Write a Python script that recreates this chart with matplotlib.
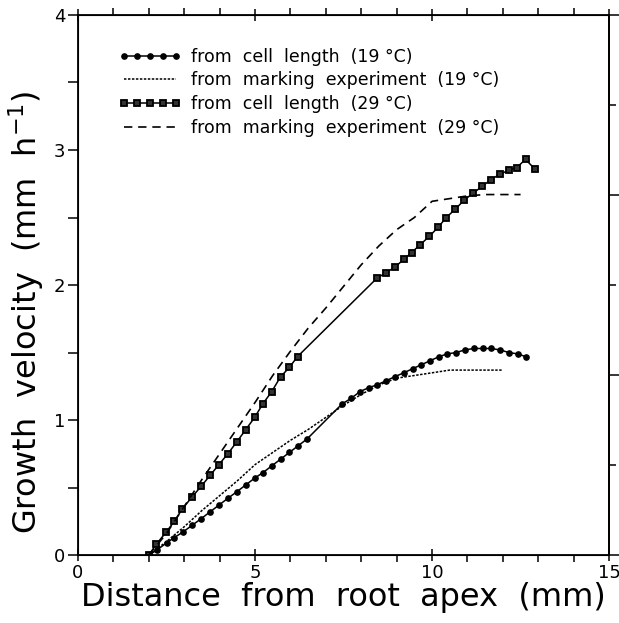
import matplotlib
matplotlib.use('Agg')
import matplotlib.pyplot as plt
from matplotlib.ticker import MultipleLocator, NullFormatter

# cell length, 19 C
x_cell19 = [2.0, 2.24, 2.5, 2.72, 2.96, 3.22, 3.48, 3.73, 3.98, 4.23, 4.49, 4.74, 4.99,
            5.22, 5.47, 5.72, 5.97, 6.22, 6.47, 7.46, 7.71, 7.96, 8.21, 8.44, 8.69, 8.94,
            9.2, 9.45, 9.7, 9.95, 10.2, 10.43, 10.68, 10.93, 11.19, 11.44, 11.66, 11.91,
            12.17, 12.42, 12.64]
y_cell19 = [0.0, 0.04, 0.09, 0.13, 0.17, 0.22, 0.27, 0.32, 0.37, 0.42, 0.47, 0.52, 0.57,
            0.61, 0.66, 0.71, 0.76, 0.81, 0.86, 1.12, 1.16, 1.21, 1.24, 1.26, 1.29, 1.32,
            1.35, 1.38, 1.41, 1.44, 1.47, 1.49, 1.50, 1.52, 1.53, 1.53, 1.53, 1.52,
            1.50, 1.49, 1.47]

# marking experiment, 19 C
x_mark19 = [2.0, 2.5, 3.0, 3.5, 4.0, 4.5, 5.0, 5.5, 6.0, 6.5, 7.0, 7.5, 8.0, 8.5, 9.0,
            9.5, 10.0, 10.5, 12.0]
y_mark19 = [0.0, 0.10, 0.21, 0.33, 0.44, 0.55, 0.67, 0.76, 0.85, 0.93, 1.02, 1.11, 1.19,
            1.26, 1.31, 1.33, 1.35, 1.37, 1.37]

# cell length, 29 C
x_cell29 = [2.0, 2.21, 2.49, 2.72, 2.94, 3.22, 3.48, 3.73, 3.98, 4.23, 4.49, 4.74, 4.99,
            5.22, 5.47, 5.72, 5.97, 6.2, 8.44, 8.69, 8.94, 9.2, 9.42, 9.67, 9.92, 10.18,
            10.4, 10.65, 10.91, 11.16, 11.41, 11.66, 11.91, 12.17, 12.39, 12.64, 12.9]
y_cell29 = [0.0, 0.08, 0.17, 0.25, 0.34, 0.43, 0.51, 0.59, 0.67, 0.75, 0.84, 0.93, 1.02,
            1.12, 1.21, 1.32, 1.39, 1.47, 2.05, 2.09, 2.13, 2.19, 2.24, 2.30, 2.36, 2.43,
            2.50, 2.56, 2.63, 2.68, 2.73, 2.78, 2.82, 2.85, 2.87, 2.93, 2.86]

# marking experiment, 29 C
x_mark29 = [2.0, 2.5, 3.0, 3.5, 4.0, 4.5, 5.0, 5.5, 6.0, 6.5, 7.0, 7.5, 8.0, 8.5, 9.0,
            9.5, 10.0, 10.5, 11.0, 11.5, 12.5]
y_mark29 = [0.0, 0.16, 0.36, 0.56, 0.75, 0.94, 1.13, 1.33, 1.51, 1.68, 1.83, 1.99, 2.15,
            2.29, 2.41, 2.50, 2.62, 2.64, 2.66, 2.67, 2.67]

labels = ['from  cell  length  (19 °C)',
          'from  marking  experiment  (19 °C)',
          'from  cell  length  (29 °C)',
          'from  marking  experiment  (29 °C)']

fig = plt.figure(figsize=(6.19, 6.23), dpi=100)
ax = fig.add_axes([0.126, 0.109, 0.858, 0.867])

ax.plot(x_cell19, y_cell19, '-', color='k', lw=1.1, marker='o', ms=3.8,
        mfc='k', mec='k', label=labels[0])
ax.plot(x_mark19, y_mark19, color='k', lw=1.1, ls=(0, (1.6, 1.0)), label=labels[1])
ax.plot(x_cell29, y_cell29, '-', color='k', lw=1.1, marker='s', ms=5,
        mfc='0.2', mec='k', mew=1.3, label=labels[2])
ax.plot(x_mark29, y_mark29, color='k', lw=1.2, ls=(0, (5, 3.5)), label=labels[3])

ax.set_xlim(0, 15)
ax.set_ylim(0, 4)
ax.xaxis.set_major_locator(MultipleLocator(5))
ax.xaxis.set_minor_locator(MultipleLocator(1))
ax.yaxis.set_major_locator(MultipleLocator(1))
ax.yaxis.set_minor_locator(MultipleLocator(0.5))
ax.tick_params(which='both', direction='out', width=1.1, labelsize=13, top=True)
ax.tick_params(axis='x', which='major', direction='inout', length=9, pad=2)
ax.tick_params(axis='x', which='minor', length=5)
ax.tick_params(axis='y', which='both', length=7, pad=2)
for s in ax.spines.values():
    s.set_linewidth(1.3)

ax2 = ax.twinx()
ax2.set_ylim(0, 3)
ax2.yaxis.set_major_locator(MultipleLocator(1))
ax2.yaxis.set_minor_locator(MultipleLocator(0.5))
ax2.yaxis.set_major_formatter(NullFormatter())
ax2.tick_params(which='major', direction='out', length=7, width=1.1)
ax2.tick_params(which='minor', direction='out', length=5, width=1.1)
ax2.spines['right'].set_linewidth(1.3)

ax.set_xlabel('Distance  from  root  apex  (mm)', fontsize=23, labelpad=0)
ax.set_ylabel('Growth  velocity  (mm  h$^{-1}$)', fontsize=23)
ax.yaxis.set_label_coords(-0.06, 0.45)

ax.legend(loc='upper left', bbox_to_anchor=(0.06, 0.955), frameon=False, fontsize=12.5,
          handlelength=3.6, handletextpad=0.6, labelspacing=0.32, numpoints=5,
          borderpad=0)

fig.savefig('out.png', dpi=100)
